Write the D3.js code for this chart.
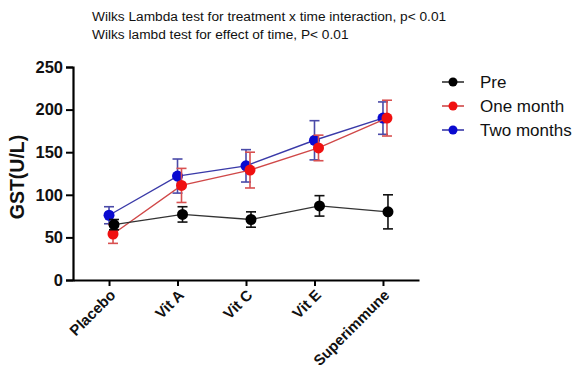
<!DOCTYPE html>
<html><head><meta charset="utf-8">
<script src="https://cdn.jsdelivr.net/npm/d3@7/dist/d3.min.js"></script>
<style>body{margin:0;background:#fff}svg{display:block;font-family:Arial,"Liberation Sans",sans-serif}</style>
</head><body><svg id="c" width="572" height="369"></svg>
<script>
const categories = ["Placebo","Vit A","Vit C","Vit E","Superimmune"];
const seriesNames = ["Pre","One month","Two months"];
const preMean = [65, 77, 71, 87, 80];
const preErr  = [6, 9, 9, 12, 20];
const oneMean = [54, 111, 129, 155, 190];
const oneErr  = [11, 20, 21, 15, 21];
const twoMean = [76, 122, 134, 164, 190];
const twoErr  = [10, 20, 19, 23, 19];
const yTicks = [0, 50, 100, 150, 200, 250];
const titleLines = ["Wilks Lambda test for treatment x time interaction, p< 0.01",
                    "Wilks lambd test for effect of time, P< 0.01"];
const yLabel = "GST(U/L)";

const svg = d3.select("#c");
const x = d3.scalePoint().domain(categories).range([73, 419]).padding(0.526);
const y = d3.scaleLinear().domain([0, 250]).range([280, 67]);

const series = [
  {name: seriesNames[2], mean: twoMean, err: twoErr, fill:"#0a0ad0", line:"#3a3aa8", ebar:"#4a4aa8", dx:0},
  {name: seriesNames[1], mean: oneMean, err: oneErr, fill:"#f01010", line:"#d04848", ebar:"#d85050", dx:4},
  {name: seriesNames[0], mean: preMean, err: preErr, fill:"#000000", line:"#333333", ebar:"#111111", dx:5}
];

// title
svg.selectAll("text.title").data(titleLines).join("text")
  .attr("class","title").attr("x", 92).attr("y",(d,i)=>21+i*18)
  .attr("font-size", 13.7).attr("fill","#111").text(d=>d);

// axes
const yAxis = svg.append("g").attr("transform","translate(73,0)")
  .call(d3.axisLeft(y).tickValues(yTicks).tickSize(7).tickPadding(3));
yAxis.select(".domain").attr("stroke","#000").attr("stroke-width",2.2);
yAxis.selectAll(".tick line").attr("stroke","#000").attr("stroke-width",2);
yAxis.selectAll(".tick text").attr("font-size",16.5).attr("font-weight","bold")
  .attr("fill","#111").attr("font-family","Arial, 'Liberation Sans', sans-serif");

const xAxis = svg.append("g").attr("transform","translate(0,280)")
  .call(d3.axisBottom(x).tickSize(6).tickSizeOuter(0));
xAxis.select(".domain").attr("stroke","#000").attr("stroke-width",2.2);
xAxis.selectAll(".tick line").attr("stroke","#000").attr("stroke-width",2);
xAxis.selectAll(".tick text").attr("font-size",15).attr("font-weight","bold")
  .attr("fill","#111").attr("font-family","Arial, 'Liberation Sans', sans-serif")
  .attr("text-anchor","end").attr("dy",null).attr("y",0)
  .attr("transform","translate(7,16) rotate(-45)");

svg.append("text").attr("transform","translate(24,177) rotate(-90)")
  .attr("text-anchor","middle").attr("font-size",19.5).attr("font-weight","bold")
  .attr("fill","#111").text(yLabel);

// series
series.forEach(s => {
  const pts = categories.map((c,i)=>({c, m:s.mean[i], e:s.err[i]}));
  const g = svg.append("g");
  g.append("path").datum(pts)
    .attr("d", d3.line().x(d=>x(d.c)+s.dx).y(d=>y(d.m)))
    .attr("fill","none").attr("stroke",s.line).attr("stroke-width",1.4);
  const eb = g.selectAll("g.eb").data(pts).join("g").attr("stroke",s.ebar).attr("stroke-width",1.6);
  eb.append("line").attr("x1",d=>x(d.c)+s.dx).attr("x2",d=>x(d.c)+s.dx)
    .attr("y1",d=>y(d.m-d.e)).attr("y2",d=>y(d.m+d.e));
  eb.append("line").attr("x1",d=>x(d.c)+s.dx-5).attr("x2",d=>x(d.c)+s.dx+5)
    .attr("y1",d=>y(d.m+d.e)).attr("y2",d=>y(d.m+d.e));
  eb.append("line").attr("x1",d=>x(d.c)+s.dx-5).attr("x2",d=>x(d.c)+s.dx+5)
    .attr("y1",d=>y(d.m-d.e)).attr("y2",d=>y(d.m-d.e));
  g.selectAll("circle").data(pts).join("circle")
    .attr("cx",d=>x(d.c)+s.dx).attr("cy",d=>y(d.m)).attr("r",5.5).attr("fill",s.fill);
});

// legend
const legendOrder = [series[2], series[1], series[0]];
const lg = svg.selectAll("g.lg").data(legendOrder).join("g").attr("class","lg")
  .attr("transform",(d,i)=>`translate(442,${82+i*24})`);
lg.append("line").attr("x1",0).attr("x2",22).attr("stroke",d=>d.line).attr("stroke-width",1.6);
lg.append("circle").attr("cx",11).attr("r",4.5).attr("fill",d=>d.fill);
lg.append("text").attr("x",38).attr("dy","0.35em").attr("font-size",17).attr("fill","#111").text(d=>d.name);
</script></body></html>
